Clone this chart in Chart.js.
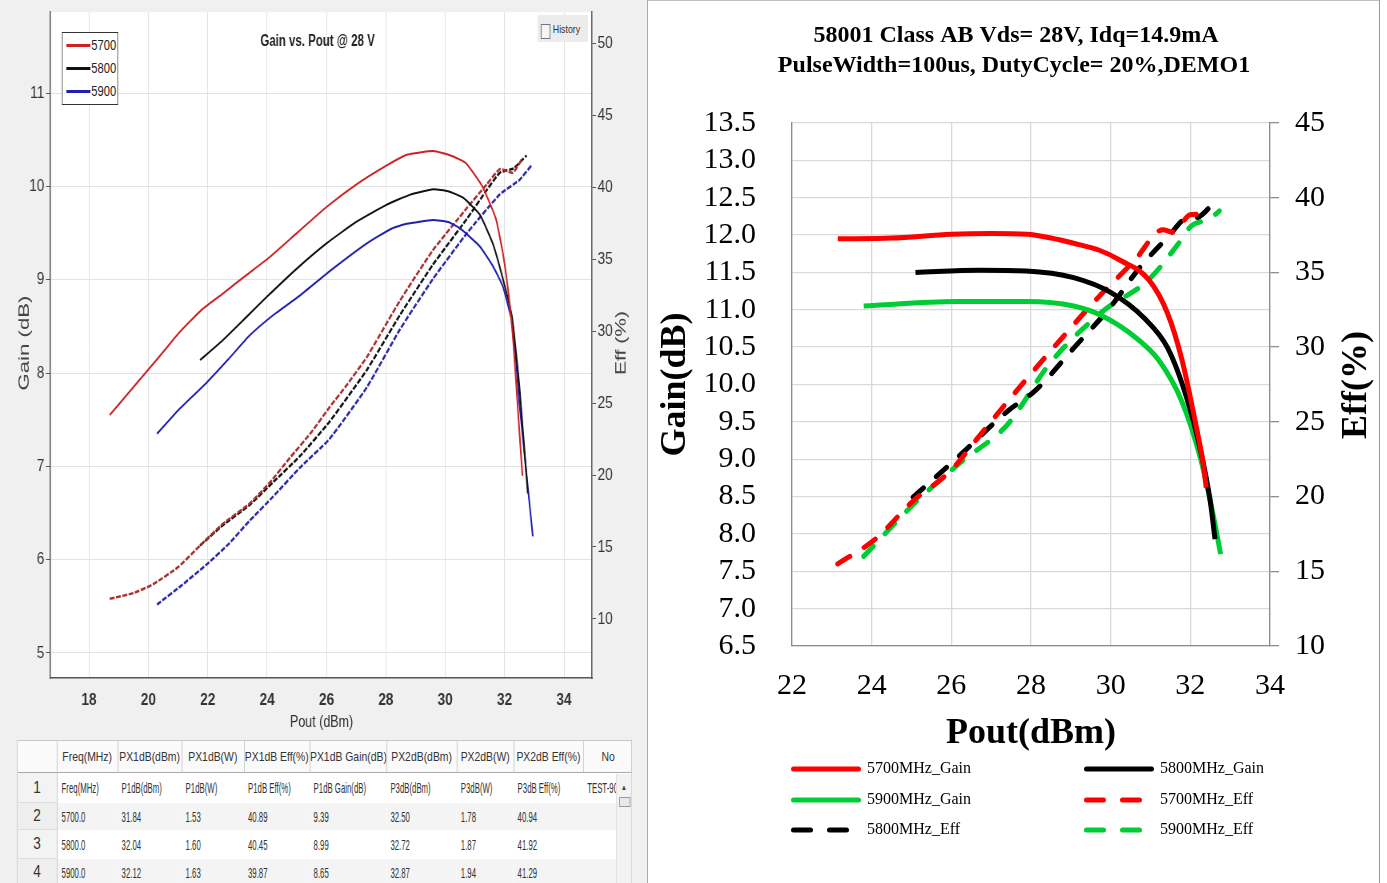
<!DOCTYPE html>
<html>
<head>
<meta charset="utf-8">
<title>Gain vs Pout</title>
<script src="https://cdn.jsdelivr.net/npm/chart.js@4.4.1/dist/chart.umd.min.js"></script>
<style>
body { margin: 0; width: 1387px; height: 883px; position: relative; overflow: hidden; background: #fff; }
#leftPanel { position: absolute; left: 0; top: 0; width: 647px; height: 883px; background: #f0f0f0; border-right: 1px solid #a8a8a8; overflow: hidden; }
/* the left screenshot is squeezed horizontally: lay it out 1/0.8 wider, then scale */
#leftInner { position: absolute; left: 0; top: 0; width: 808px; height: 883px; transform: scaleX(0.8); transform-origin: 0 0; font-family: 'Liberation Sans', Arial, sans-serif; }
#rightBorder { position: absolute; left: 1379px; top: 0; width: 1px; height: 883px; background: #9a9a9a; }
#rightTop { position: absolute; left: 648px; top: 0; width: 732px; height: 1px; background: #c0c0c0; }
canvas { position: absolute; top: 0; }
#legendBox { position: absolute; left: 77px; top: 32px; width: 69px; height: 71px; background: #fff; border: 1px solid #333; }
.legLine { position: absolute; left: 5px; width: 30px; height: 3px; }
.legText { position: absolute; left: 36px; font-size: 14px; line-height: 14px; color: #222; }
#history { position: absolute; left: 672px; top: 15px; width: 63px; height: 27px; background: #ececec; font-size: 11px; color: #333; }
#history .box { position: absolute; left: 4px; top: 9px; width: 10px; height: 13px; border: 1px solid #777; background: #f6f6f6; }
#history .lbl { position: absolute; left: 19px; top: 8px; }
#tbl { position: absolute; left: 21px; top: 740px; width: 767px; height: 143px; overflow: hidden; background: #fff; border-left: 1px solid #c8c8c8; border-top: 1px solid #c8c8c8; border-right: 1px solid #c8c8c8; }
#tbl table { border-collapse: collapse; table-layout: fixed; width: 767px; }
#tbl th { height: 31px; padding: 0; font-weight: normal; font-size: 13px; color: #333; background: #fafafa; border-right: 1px solid #c8c8c8; border-bottom: 1px solid #aaa; white-space: nowrap; overflow: hidden; }
#tbl td { padding: 0 0 0 5px; font-size: 15px; color: #333; white-space: nowrap; overflow: hidden; }
#tbl td .sq { display: inline-block; transform: scaleX(0.65); transform-origin: 0 50%; }
#tbl td.num { padding: 0; font-size: 17px; text-align: center; background: #f3f3f3; border-right: 1px solid #c8c8c8; border-bottom: 1px solid #ddd; }
#tbl tr.shade td { background: #f4f4f4; }
#tbl tr.shade td.num { background: #efefef; }
#scroll { position: absolute; left: 748px; top: 33px; width: 19px; height: 110px; background: #f2f2f2; border-left: 1px solid #ddd; }
#scroll .arr { position: absolute; left: 5px; top: 9px; font-size: 8px; color: #444; }
#scroll .thumb { position: absolute; left: 3px; top: 23px; width: 12px; height: 8px; border: 1px solid #999; background: #e8e8e8; }
</style>
</head>
<body>
<div id="leftPanel">
  <div id="leftInner">
    <canvas id="leftCanvas" width="800" height="738" style="left:0"></canvas>
    <div id="legendBox"></div>
    <div id="history"><div class="box"></div><div class="lbl">History</div></div>
    <div id="tbl"></div>
  </div>
</div>
<div id="rightTop"></div>
<div id="rightBorder"></div>
<canvas id="rightCanvas" width="729" height="883" style="left:650px"></canvas>
<script>
'use strict';
// ---- left chart (measurement software screenshot) ----
var poutTicksL = [18, 20, 22, 24, 26, 28, 30, 32, 34];
var gainTicksL = [5, 6, 7, 8, 9, 10, 11];
var effTicksL = [10, 15, 20, 25, 30, 35, 40, 45, 50];
var freqLabelsL = ['5700', '5800', '5900'];

var gain5700L = [[18.7, 7.55], [19.5, 7.85], [20.3, 8.15], [21.0, 8.42], [21.8, 8.68], [22.5, 8.85], [23.3, 9.05], [24.0, 9.22], [25.0, 9.5], [26.0, 9.78], [27.0, 10.02], [28.0, 10.22], [28.7, 10.34], [29.6, 10.38], [30.2, 10.33], [30.7, 10.25], [31.25, 10.0], [31.7, 9.66], [31.95, 9.27], [32.15, 8.8], [32.3, 8.3], [32.45, 7.6], [32.6, 6.9]];
var gain5800L = [[21.74, 8.14], [22.5, 8.35], [23.3, 8.6], [24.0, 8.82], [25.0, 9.12], [26.0, 9.39], [27.0, 9.62], [28.0, 9.8], [28.8, 9.91], [29.6, 9.97], [30.1, 9.95], [30.6, 9.88], [31.16, 9.7], [31.6, 9.39], [31.95, 9.0], [32.25, 8.6], [32.5, 7.85], [32.78, 6.71]];
var gain5900L = [[20.29, 7.35], [21.0, 7.6], [21.97, 7.9], [22.7, 8.15], [23.4, 8.4], [24.2, 8.62], [25.1, 8.83], [26.1, 9.09], [27.36, 9.39], [28.2, 9.55], [28.7, 9.6], [29.58, 9.64], [30.1, 9.62], [30.5, 9.55], [31.16, 9.36], [31.6, 9.15], [31.94, 8.93], [32.28, 8.5], [32.5, 7.67], [32.95, 6.25]];
var eff5700L = [[18.7, 11.4], [19.5, 11.8], [20.15, 12.4], [21.0, 13.6], [21.74, 15.1], [22.5, 16.6], [23.4, 18.0], [24.1, 19.5], [24.77, 21.2], [25.5, 23.0], [26.1, 24.7], [26.7, 26.3], [27.36, 28.2], [28.47, 32.1], [29.58, 35.6], [30.73, 38.55], [31.4, 40.2], [31.84, 41.25], [32.28, 41.0], [32.6, 42.0]];
var eff5800L = [[21.74, 15.1], [22.5, 16.5], [23.4, 17.9], [24.2, 19.5], [25.1, 21.3], [26.1, 23.7], [27.36, 27.3], [28.47, 31.1], [29.58, 34.6], [30.73, 37.8], [31.4, 39.8], [31.84, 41.0], [32.3, 41.3], [32.74, 42.2]];
var eff5900L = [[20.29, 11.0], [21.1, 12.3], [21.97, 13.8], [22.7, 15.2], [23.4, 16.8], [24.2, 18.5], [25.1, 20.5], [26.1, 22.5], [27.36, 26.1], [28.47, 30.1], [29.58, 33.6], [30.73, 36.8], [31.84, 39.5], [32.5, 40.5], [32.9, 41.5]];

// ---- right chart (Excel plot) ----
var poutTicksR = [22, 24, 26, 28, 30, 32, 34];
var gainTicksR = [6.5, 7, 7.5, 8, 8.5, 9, 9.5, 10, 10.5, 11, 11.5, 12, 12.5, 13, 13.5];
var effTicksR = [10, 15, 20, 25, 30, 35, 40, 45];
var seriesNamesR = ['5700MHz_Gain', '5800MHz_Gain', '5900MHz_Gain', '5700MHz_Eff', '5800MHz_Eff', '5900MHz_Eff'];

var gain5700R = [[23.15, 11.95], [24.5, 11.96], [26.0, 12.01], [27.0, 12.02], [27.9, 12.01], [28.5, 11.96], [29.07, 11.89], [29.7, 11.8], [30.25, 11.66], [30.96, 11.4], [31.43, 10.95], [31.79, 10.33], [32.14, 9.46], [32.32, 8.95], [32.4, 8.62]];
var gain5800R = [[25.1, 11.5], [26.7, 11.53], [27.88, 11.52], [29.07, 11.43], [30.01, 11.23], [30.84, 10.89], [31.43, 10.49], [31.91, 9.82], [32.26, 9.11], [32.5, 8.44], [32.62, 7.93]];
var gain5900R = [[23.8, 11.05], [26.11, 11.11], [27.88, 11.11], [29.07, 11.05], [29.78, 10.92], [30.6, 10.64], [31.2, 10.33], [31.79, 9.77], [32.26, 9.0], [32.56, 8.29], [32.76, 7.73]];
var eff5700R = [[23.15, 15.5], [24.09, 17.15], [25.04, 19.7], [25.99, 21.75], [26.7, 24.05], [27.41, 26.35], [28.47, 29.67], [29.66, 33.25], [30.6, 35.8], [31.31, 37.85], [31.55, 37.7], [32.02, 38.87], [32.32, 38.9]];
var eff5800R = [[25.04, 19.96], [26.22, 22.77], [27.41, 25.71], [28.12, 27.12], [29.07, 29.93], [30.01, 32.74], [30.72, 35.29], [31.43, 37.34], [31.91, 38.61], [32.14, 38.65], [32.67, 39.89]];
var eff5900R = [[23.8, 16.0], [25.04, 19.45], [26.22, 22.26], [27.41, 24.82], [28.47, 28.9], [29.78, 32.35], [30.96, 34.53], [31.67, 36.82], [32.02, 38.1], [32.5, 38.61], [32.73, 39.12]];

// ---- table below left chart ----
var tableHeader = ['', 'Freq(MHz)', 'PX1dB(dBm)', 'PX1dB(W)', 'PX1dB Eff(%)', 'PX1dB Gain(dB)', 'PX2dB(dBm)', 'PX2dB(W)', 'PX2dB Eff(%)', 'No'];
var tableRows = [
    ['1', 'Freq(MHz)', 'P1dB(dBm)', 'P1dB(W)', 'P1dB Eff(%)', 'P1dB Gain(dB)', 'P3dB(dBm)', 'P3dB(W)', 'P3dB Eff(%)', 'TEST-90'],
    ['2', '5700.0', '31.84', '1.53', '40.89', '9.39', '32.50', '1.78', '40.94', ''],
    ['3', '5800.0', '32.04', '1.60', '40.45', '8.99', '32.72', '1.87', '41.92', ''],
    ['4', '5900.0', '32.12', '1.63', '39.87', '8.65', '32.87', '1.94', '41.29', '']
];
var tableColWidths = [49, 76, 80, 78, 82, 96, 88, 71, 87, 60];
var tableRowHeights = [30, 27, 29, 27];

var SANS = "'Liberation Sans', Arial, sans-serif";
var SERIF = "'Liberation Serif', 'Times New Roman', serif";

function toPoints(arr) {
    return arr.map(function (p) { return { x: p[0], y: p[1] }; });
}

function setTicks(values) {
    return function (axis) {
        axis.ticks = values.map(function (v) { return { value: v }; });
    };
}

// fills the plot area
var plotBgPlugin = {
    id: 'plotBg',
    beforeDraw: function (chart, args, opts) {
        var a = chart.chartArea;
        chart.ctx.save();
        chart.ctx.fillStyle = opts.color || '#fff';
        chart.ctx.fillRect(a.left, a.top, a.right - a.left, a.bottom - a.top);
        chart.ctx.restore();
    }
};

// free text: titles, rotated axis names
var textPlugin = {
    id: 'extraText',
    afterDraw: function (chart, args, opts) {
        var ctx = chart.ctx;
        (opts.items || []).forEach(function (t) {
            ctx.save();
            ctx.font = t.font;
            ctx.fillStyle = t.color || '#000';
            ctx.textAlign = 'center';
            ctx.textBaseline = 'middle';
            ctx.translate(t.x, t.y);
            if (t.rot) ctx.rotate(t.rot * Math.PI / 180);
            if (t.len) {
                var w = ctx.measureText(t.text).width;
                ctx.scale(t.len / w, 1);
            }
            ctx.fillText(t.text, 0, 0);
            ctx.restore();
        });
    }
};

// two-column legend under the right plot
var gridLegendPlugin = {
    id: 'gridLegend',
    afterDraw: function (chart, args, opts) {
        var ctx = chart.ctx;
        chart.data.datasets.forEach(function (ds, i) {
            var x = opts.colX[i % 2];
            var y = opts.rowY[Math.floor(i / 2)];
            ctx.save();
            ctx.strokeStyle = ds.borderColor;
            ctx.lineWidth = opts.lineWidth;
            ctx.lineCap = 'round';
            ctx.setLineDash(ds.borderDash && ds.borderDash.length ? opts.dash : []);
            ctx.beginPath();
            ctx.moveTo(x + 2.5, y);
            ctx.lineTo(x + opts.lineLen - 2.5, y);
            ctx.stroke();
            ctx.restore();
            ctx.font = opts.font;
            ctx.fillStyle = '#000';
            ctx.textAlign = 'left';
            ctx.textBaseline = 'middle';
            ctx.fillText(ds.label, x + opts.lineLen + opts.gap, y);
        });
    }
};

var leftColors = ['#cc2222', '#111111', '#2020b0'];
var leftEffColors = ['#a83030', '#111111', '#2a2aa8'];

function leftSet(label, pts, color, dashed, axis) {
    return {
        label: label,
        data: toPoints(pts),
        showLine: true,
        borderColor: color,
        borderWidth: dashed ? 2.5 : 2,
        borderDash: dashed ? [6, 2] : [],
        pointRadius: 0,
        tension: 0.15,
        yAxisID: axis
    };
}

var leftTickFont = { family: SANS, size: 17 };

var leftChart = new Chart(document.getElementById('leftCanvas'), {
    type: 'scatter',
    data: {
        datasets: [
            leftSet(freqLabelsL[0], gain5700L, leftColors[0], false, 'yGain'),
            leftSet(freqLabelsL[1], gain5800L, leftColors[1], false, 'yGain'),
            leftSet(freqLabelsL[2], gain5900L, leftColors[2], false, 'yGain'),
            leftSet(freqLabelsL[0] + ' Eff', eff5700L, leftEffColors[0], true, 'yEff'),
            leftSet(freqLabelsL[1] + ' Eff', eff5800L, leftEffColors[1], true, 'yEff'),
            leftSet(freqLabelsL[2] + ' Eff', eff5900L, leftEffColors[2], true, 'yEff')
        ]
    },
    options: {
        responsive: false,
        animation: false,
        layout: { padding: { top: 12, left: 0, right: 0, bottom: 0 } },
        plugins: {
            legend: { display: false },
            tooltip: { enabled: false },
            plotBg: { color: '#ffffff' },
            extraText: {
                items: [
                    { text: 'Gain vs. Pout @ 28 V', x: 397, y: 42, len: 143, font: 'bold 16px ' + SANS, color: '#222' },
                    { text: 'Pout (dBm)', x: 402, y: 722, len: 79, font: '17px ' + SANS, color: '#333' },
                    { text: 'Gain (dB)', x: 31, y: 343, rot: -90, len: 95, font: '18px ' + SANS, color: '#444' },
                    { text: 'Eff (%)', x: 777, y: 343, rot: -90, len: 64, font: '18px ' + SANS, color: '#444' }
                ]
            }
        },
        scales: {
            x: {
                type: 'linear',
                min: 16.686,
                max: 34.943,
                afterFit: function (s) { s.height = 60; },
                afterBuildTicks: setTicks(poutTicksL),
                grid: { color: '#e2e2e2', drawTicks: false },
                border: { color: '#555', width: 1.5 },
                ticks: { autoSkip: false, padding: 12, color: '#333', font: { family: SANS, size: 17, weight: 'bold' } }
            },
            yGain: {
                type: 'linear',
                position: 'left',
                min: 4.732,
                max: 11.868,
                afterFit: function (s) { s.width = 62.5; },
                afterBuildTicks: setTicks(gainTicksL),
                grid: { color: '#e2e2e2', tickColor: '#555', tickLength: 5 },
                border: { color: '#555', width: 1.5 },
                ticks: { autoSkip: false, padding: 2, color: '#333', font: leftTickFont }
            },
            yEff: {
                type: 'linear',
                position: 'right',
                min: 5.9,
                max: 52.15,
                afterFit: function (s) { s.width = 60; },
                afterBuildTicks: setTicks(effTicksL),
                grid: { drawOnChartArea: false, tickColor: '#555', tickLength: 5 },
                border: { color: '#555', width: 1.5 },
                ticks: { autoSkip: false, padding: 2, color: '#333', font: leftTickFont }
            }
        }
    },
    plugins: [plotBgPlugin, textPlugin]
});

var rightColors = ['#ff0000', '#000000', '#00cc33'];

function rightSet(label, pts, color, dashed, axis) {
    return {
        label: label,
        data: toPoints(pts),
        showLine: true,
        borderColor: color,
        borderWidth: 5,
        borderDash: dashed ? [14, 17] : [],
        borderCapStyle: dashed ? 'round' : 'butt',
        pointRadius: 0,
        cubicInterpolationMode: 'monotone',
        yAxisID: axis
    };
}

var rightTickFont = { family: SERIF, size: 30 };

var rightChart = new Chart(document.getElementById('rightCanvas'), {
    type: 'scatter',
    data: {
        datasets: [
            rightSet(seriesNamesR[0], gain5700R, rightColors[0], false, 'yGain'),
            rightSet(seriesNamesR[1], gain5800R, rightColors[1], false, 'yGain'),
            rightSet(seriesNamesR[2], gain5900R, rightColors[2], false, 'yGain'),
            rightSet(seriesNamesR[3], eff5700R, rightColors[0], true, 'yEff'),
            rightSet(seriesNamesR[4], eff5800R, rightColors[1], true, 'yEff'),
            rightSet(seriesNamesR[5], eff5900R, rightColors[2], true, 'yEff')
        ]
    },
    options: {
        responsive: false,
        animation: false,
        layout: { padding: { top: 123, left: 0, right: 0, bottom: 123 } },
        plugins: {
            legend: { display: false },
            tooltip: { enabled: false },
            plotBg: { color: '#ffffff' },
            extraText: {
                items: [
                    { text: '58001 Class AB Vds= 28V, Idq=14.9mA', x: 366, y: 36, font: 'bold 24px ' + SERIF },
                    { text: 'PulseWidth=100us, DutyCycle= 20%,DEMO1', x: 364, y: 66, font: 'bold 24px ' + SERIF },
                    { text: 'Eff(%)', x: 707, y: 385, rot: -90, font: 'bold 36px ' + SERIF }
                ]
            },
            gridLegend: {
                colX: [141, 434],
                rowY: [769, 800, 830],
                lineLen: 70,
                lineWidth: 5,
                gap: 6,
                dash: [17, 19],
                font: '16px ' + SERIF
            }
        },
        scales: {
            x: {
                type: 'linear',
                min: 22,
                max: 34,
                afterFit: function (s) { s.height = 114; },
                afterBuildTicks: setTicks(poutTicksR),
                grid: { color: '#d9d9d9', lineWidth: 1.3, drawTicks: false },
                border: { color: '#8c8c8c', width: 1.3 },
                ticks: { autoSkip: false, padding: 22, color: '#000', font: rightTickFont },
                title: { display: true, text: 'Pout(dBm)', color: '#000', font: { family: SERIF, size: 36, weight: 'bold' }, padding: { top: 0, bottom: 5 } }
            },
            yGain: {
                type: 'linear',
                position: 'left',
                min: 6.5,
                max: 13.5,
                afterFit: function (s) { s.width = 142; },
                afterBuildTicks: setTicks(gainTicksR),
                grid: { color: '#d9d9d9', lineWidth: 1.3, drawTicks: false },
                border: { color: '#8c8c8c', width: 1.3 },
                ticks: {
                    autoSkip: false,
                    padding: 36,
                    color: '#000',
                    font: rightTickFont,
                    callback: function (v) { return v.toFixed(1); }
                },
                title: { display: true, text: 'Gain(dB)', color: '#000', font: { family: SERIF, size: 36, weight: 'bold' }, padding: { top: 4, bottom: 0 } }
            },
            yEff: {
                type: 'linear',
                position: 'right',
                min: 10,
                max: 45,
                afterFit: function (s) { s.width = 109; },
                afterBuildTicks: setTicks(effTicksR),
                grid: { drawOnChartArea: false, color: '#8c8c8c', tickColor: '#8c8c8c', tickLength: 9, lineWidth: 1.3 },
                border: { color: '#8c8c8c', width: 1.3 },
                ticks: { autoSkip: false, padding: 16, color: '#000', font: rightTickFont }
            }
        }
    },
    plugins: [plotBgPlugin, textPlugin, gridLegendPlugin]
});

// legend box of the left chart
var legendBox = document.getElementById('legendBox');
var legendRows = [12, 35, 58];
for (var i = 0; i < freqLabelsL.length; i++) {
    var line = document.createElement('div');
    line.className = 'legLine';
    line.style.top = (legendRows[i] - 1) + 'px';
    line.style.background = leftColors[i];
    legendBox.appendChild(line);
    var txt = document.createElement('div');
    txt.className = 'legText';
    txt.style.top = (legendRows[i] - 7) + 'px';
    txt.textContent = freqLabelsL[i];
    legendBox.appendChild(txt);
}

// result table
var html = '<table><colgroup>';
for (var c = 0; c < tableColWidths.length; c++) {
    html += '<col style="width:' + tableColWidths[c] + 'px">';
}
html += '</colgroup><tr>';
for (var h = 0; h < tableHeader.length; h++) {
    var align = h === tableHeader.length - 1 ? 'right;padding-right:20px' : 'center';
    html += '<th style="text-align:' + align + '">' + tableHeader[h] + '</th>';
}
html += '</tr>';
for (var r = 0; r < tableRows.length; r++) {
    html += '<tr class="' + (r % 2 === 1 ? 'shade' : '') + '" style="height:' + tableRowHeights[r] + 'px">';
    for (var k = 0; k < tableRows[r].length; k++) {
        if (k === 0) {
            html += '<td class="num">' + tableRows[r][k] + '</td>';
        } else {
            html += '<td><span class="sq">' + tableRows[r][k] + '</span></td>';
        }
    }
    html += '</tr>';
}
html += '</table><div id="scroll"><div class="arr">&#9650;</div><div class="thumb"></div></div>';
document.getElementById('tbl').innerHTML = html;
</script>
</body>
</html>
